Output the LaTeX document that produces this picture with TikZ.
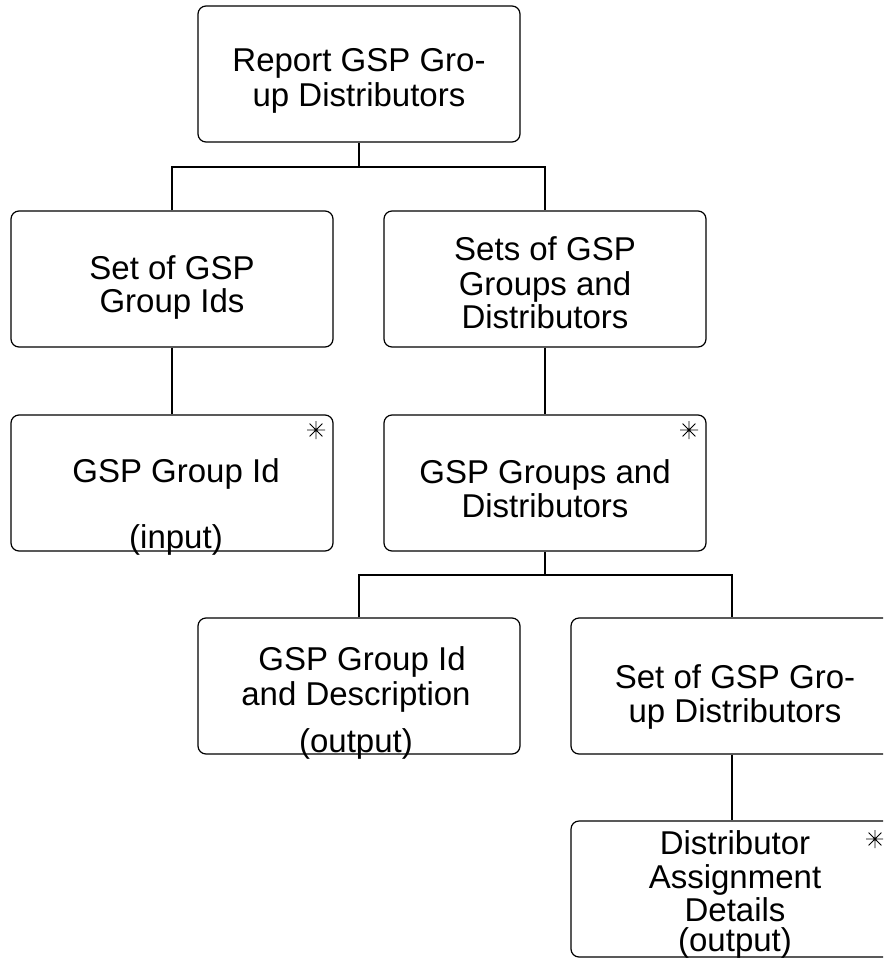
\documentclass[tikz,border=0pt]{standalone}
\usepackage{fontspec}
\setmainfont{Liberation Sans}
\begin{document}
\begin{tikzpicture}[x=1pt,y=-1pt,
  box/.style={draw=black,line width=1.2pt,rounded corners=8pt,minimum width=322pt,minimum height=136pt,inner sep=0pt},
  lbl/.style={anchor=base,inner sep=0pt,yshift=-5pt,font=\fontsize{33}{34}\selectfont},
  conn/.style={draw=black,line width=1.2pt},
  iter/.style={minimum size=18pt,inner sep=0pt,path picture={
     \draw[line width=0.8pt] (path picture bounding box.north) -- (path picture bounding box.south)
       (path picture bounding box.west) -- (path picture bounding box.east)
       ([xshift=2.6pt,yshift=-2.6pt]path picture bounding box.north west) -- ([xshift=-2.6pt,yshift=2.6pt]path picture bounding box.south east)
       ([xshift=-2.6pt,yshift=-2.6pt]path picture bounding box.north east) -- ([xshift=2.6pt,yshift=2.6pt]path picture bounding box.south west);}}]
\useasboundingbox (0,0) rectangle (883,960);
\clip (0,0) rectangle (883,960);
% boxes
\node[box] (top) at (359,74) {};
\node[box] (a) at (172,279) {};
\node[box] (b) at (545,279) {};
\node[box] (a1) at (172,483) {};
\node[box] (b1) at (545,483) {};
\node[box] (c1) at (359,686) {};
\node[box] (c2) at (732,686) {};
\node[box] (c3) at (732,889) {};
% connectors
\coordinate (j1) at (359,167);
\coordinate (j2) at (545,575);
\draw[conn] (top.south) -- (j1);
\draw[conn] (a.north) |- (j1) -| (b.north);
\draw[conn] (a.south) -- (a1.north);
\draw[conn] (b.south) -- (b1.north);
\draw[conn] (b1.south) -- (j2);
\draw[conn] (c1.north) |- (j2) -| (c2.north);
\draw[conn] (c2.south) -- (c3.north);
% texts
\node[lbl] (t1) at (359,67) {Report GSP Gro-};
\node[lbl] (t2) at (359,102) {up Distributors};
\node[lbl] (t3) at (172,274) {Set of GSP};
\node[lbl] (t4) at (172,307) {Group Ids};
\node[lbl] (t5) at (545,255) {Sets of GSP};
\node[lbl] (t6) at (545,290) {Groups and};
\node[lbl] (t7) at (545,323) {Distributors};
\node[lbl] (t8) at (176,477) {GSP Group Id};
\node[lbl] (t9) at (176,543) {(input)};
\node[lbl] (t10) at (545,478) {GSP Groups and};
\node[lbl] (t11) at (545,512) {Distributors};
\node[lbl] (t12) at (362,665) {GSP Group Id};
\node[lbl] (t13) at (356,700) {and Description};
\node[lbl] (t14) at (356,747) {(output)};
\node[lbl] (t15) at (735,683) {Set of GSP Gro-};
\node[lbl] (t16) at (735,717) {up Distributors};
\node[lbl] (t17) at (735,849) {Distributor};
\node[lbl] (t18) at (735,883) {Assignment};
\node[lbl] (t19) at (735,916) {Details};
\node[lbl] (t20) at (735,946) {(output)};
% iteration marks
\node[iter] (s1) at (316,430) {};
\node[iter] (s2) at (689,430) {};
\node[iter] (s3) at (875,839) {};
\end{tikzpicture}
\end{document}
